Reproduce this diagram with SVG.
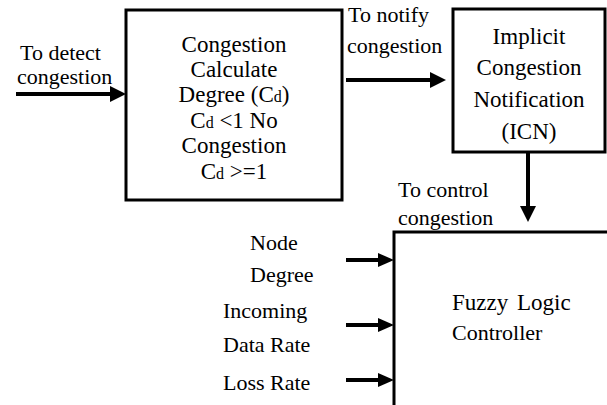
<svg xmlns="http://www.w3.org/2000/svg" width="607" height="405" viewBox="0 0 607 405">
<rect width="607" height="405" fill="#fff"/>
<g id="node-calc" font-size="23" fill="#000">
<rect fill="#fff" stroke="#000" stroke-width="3" x="126" y="10" width="216" height="190"/>
<text font-family="Times New Roman" text-anchor="middle" x="234" y="52">Congestion</text>
<text font-family="Times New Roman" text-anchor="middle" x="234" y="77">Calculate</text>
<text font-family="Times New Roman" text-anchor="middle" x="234" y="102">Degree (C<tspan font-size="16">d</tspan>)</text>
<text font-family="Times New Roman" text-anchor="middle" x="234" y="128">C<tspan font-size="16">d</tspan> &lt;1 No</text>
<text font-family="Times New Roman" text-anchor="middle" x="234" y="153">Congestion</text>
<text font-family="Times New Roman" text-anchor="middle" x="234" y="179">C<tspan font-size="16">d</tspan> &gt;=1</text>
</g>
<g id="node-icn" font-size="23" fill="#000">
<rect fill="#fff" stroke="#000" stroke-width="3" x="453" y="9" width="152" height="143"/>
<text font-family="Times New Roman" text-anchor="middle" x="529" y="44">Implicit</text>
<text font-family="Times New Roman" text-anchor="middle" x="529" y="75">Congestion</text>
<text font-family="Times New Roman" text-anchor="middle" x="529" y="107">Notification</text>
<text font-family="Times New Roman" text-anchor="middle" x="529" y="139">(ICN)</text>
</g>
<g id="node-flc" font-size="23" fill="#000">
<path fill="#fff" stroke="#000" stroke-width="3" d="M394,410 V232 H612"/>
<text font-family="Times New Roman" word-spacing="3" x="452" y="310">Fuzzy Logic</text>
<text font-family="Times New Roman" font-size="22" x="452" y="340">Controller</text>
</g>
<g id="connectors" stroke="#000" stroke-width="4" fill="#000">
<line x1="16" y1="94" x2="112" y2="94"/>
<polygon stroke="none" points="110,86 126,94 110,102"/>
<line x1="346" y1="80" x2="432" y2="80"/>
<polygon stroke="none" points="430,72 446,80 430,88"/>
<line x1="528" y1="152" x2="528" y2="208"/>
<polygon stroke="none" points="520,206 528,222 536,206"/>
<line x1="346" y1="260" x2="380" y2="260"/>
<polygon stroke="none" points="378,253 394,260 378,267"/>
<line x1="346" y1="325" x2="380" y2="325"/>
<polygon stroke="none" points="378,318 394,325 378,332"/>
<line x1="346" y1="380" x2="380" y2="380"/>
<polygon stroke="none" points="378,373 394,380 378,387"/>
</g>
<g id="labels" font-size="22" fill="#000">
<text font-family="Times New Roman" x="20" y="60">To detect</text>
<text font-family="Times New Roman" x="17" y="84">congestion</text>
<text font-family="Times New Roman" x="348" y="22">To notify</text>
<text font-family="Times New Roman" x="347" y="53">congestion</text>
<text font-family="Times New Roman" x="398" y="197">To control</text>
<text font-family="Times New Roman" x="398" y="225">congestion</text>
<text font-family="Times New Roman" x="250" y="250">Node</text>
<text font-family="Times New Roman" x="250" y="282">Degree</text>
<text font-family="Times New Roman" x="223" y="318">Incoming</text>
<text font-family="Times New Roman" x="223" y="352">Data Rate</text>
<text font-family="Times New Roman" x="223" y="390">Loss Rate</text>
</g>
</svg>
